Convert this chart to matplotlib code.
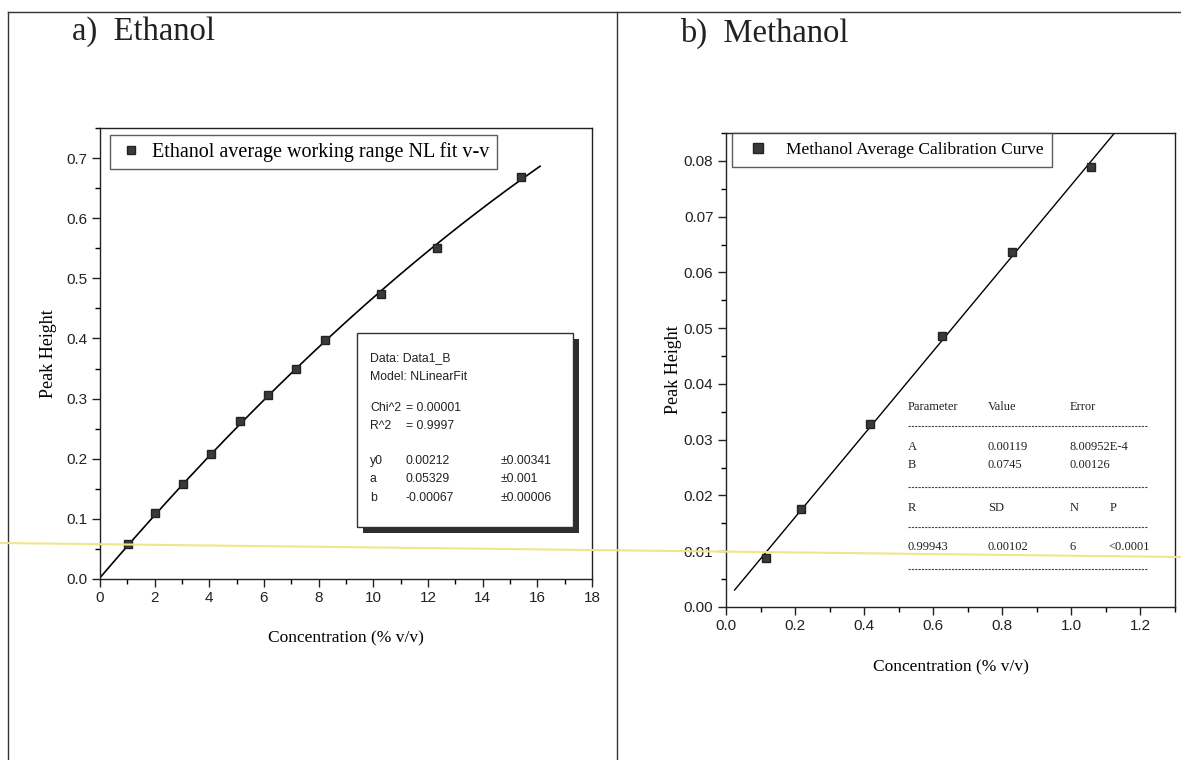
import numpy as np
import matplotlib.pyplot as plt
from matplotlib.patches import Rectangle
from matplotlib.lines import Line2D
from matplotlib.ticker import MultipleLocator

W, H = 1181, 760

# Ethanol calibration points
eth_conc = [1.03, 2.02, 3.04, 4.07, 5.12, 6.15, 7.17, 8.22, 10.28, 12.33, 15.42]
eth_peak = [0.058, 0.110, 0.158, 0.208, 0.263, 0.306, 0.349, 0.398, 0.474, 0.550, 0.668]
# quadratic fit parameters y0, a, b
eth_fit = [0.00212, 0.05329, -0.00067]

# Methanol calibration points
meth_conc = [0.115, 0.216, 0.418, 0.626, 0.828, 1.058]
meth_peak = [0.0088, 0.0176, 0.0328, 0.0486, 0.0636, 0.0789]
# linear fit parameters A, B
meth_fit = [0.00119, 0.0745]

serif = 'Liberation Serif'
sans = 'Liberation Sans'
plt.rcParams['font.family'] = sans


def fx(x):
    return x / W


def fy(y):
    return 1 - y / H


fig = plt.figure(figsize=(W / 100, H / 100), dpi=100)
fig.patch.set_facecolor('white')

# page frame and divider
for xs, ys in [([8, W], [12, 12]), ([8, 8], [12, H]), ([617, 617], [12, H])]:
    fig.add_artist(Line2D([fx(v) for v in xs], [fy(v) for v in ys],
                          color='#333333', lw=1.0))

fig.text(fx(72), fy(32), 'a)  Ethanol', family=serif, fontsize=23.5,
         color='#222222', va='center')
fig.text(fx(680), fy(33), 'b)  Methanol', family=serif, fontsize=23.5,
         color='#222222', va='center')


def style_axes(ax):
    for s in ax.spines.values():
        s.set_linewidth(1.0)
        s.set_color('#222222')
    ax.tick_params(which='major', direction='out', length=6, width=1, pad=3,
                   labelsize=11, colors='#222222', right=False, top=False)
    ax.tick_params(which='minor', direction='out', length=3.5, width=1,
                   right=False, top=False)


# ---- a) Ethanol ----
ax1 = fig.add_axes([fx(100), fy(579), fx(592) - fx(100), fy(128) - fy(579)])
xf = np.linspace(0, 16.1, 200)
ax1.plot(xf, eth_fit[0] + eth_fit[1] * xf + eth_fit[2] * xf ** 2,
         color='black', lw=1.2, zorder=2)
ax1.plot(eth_conc, eth_peak, 's', color='#3a3a3a', ms=6, mec='#222222',
         zorder=3, label='Ethanol average working range NL fit v-v')
ax1.set_xlim(0, 18)
ax1.set_ylim(0, 0.75)
ax1.xaxis.set_major_locator(MultipleLocator(2))
ax1.xaxis.set_minor_locator(MultipleLocator(1))
ax1.yaxis.set_minor_locator(MultipleLocator(0.05))
ax1.set_yticks(np.arange(0, 0.71, 0.1))
ax1.set_yticklabels([f'{v:.1f}' for v in np.arange(0, 0.71, 0.1)])
style_axes(ax1)
ax1.set_xlabel('Concentration (% v/v)', family=serif, fontsize=12.5, labelpad=18)
ax1.set_ylabel('Peak Height', family=serif, fontsize=13, labelpad=7)
leg1 = ax1.legend(loc='upper left', bbox_to_anchor=(0.02, 0.985),
                  prop={'family': serif, 'size': 14.5}, frameon=True,
                  fancybox=False, edgecolor='#333333', borderpad=0.35,
                  handlelength=1.4, handletextpad=0.35, borderaxespad=0,
                  markerscale=0.85)
leg1.get_frame().set_linewidth(1.0)

# fit report box with drop shadow
fig.add_artist(Rectangle((fx(363), fy(533)), fx(579) - fx(363), fy(339) - fy(533),
                         facecolor='#2e2e2e', edgecolor='none'))
fig.add_artist(Rectangle((fx(357), fy(527)), fx(573) - fx(357), fy(333) - fy(527),
                         facecolor='white', edgecolor='#333333', lw=1.0))
box_rows = [
    (358, ['Data: Data1_B']),
    (377, ['Model: NLinearFit']),
    (408, ['Chi^2', '= 0.00001']),
    (426, ['R^2', '= 0.9997']),
    (461, ['y0', '0.00212', '\u00b10.00341']),
    (479, ['a', '0.05329', '\u00b10.001']),
    (498, ['b', '-0.00067', '\u00b10.00006']),
]
for y, cells in box_rows:
    for x, t in zip([370, 406, 501], cells):
        fig.text(fx(x), fy(y), t, family=sans, fontsize=8.8, color='#222222',
                 va='center')

# ---- b) Methanol ----
ax2 = fig.add_axes([fx(726), fy(607), fx(1175) - fx(726), fy(133) - fy(607)])
xm = np.array([0.025, 1.2])
ax2.plot(xm, meth_fit[0] + meth_fit[1] * xm, color='black', lw=1.0, zorder=2)
ax2.plot(meth_conc, meth_peak, 's', color='#3a3a3a', ms=5.5, mec='#222222',
         zorder=3, label='Methanol Average Calibration Curve')
ax2.set_xlim(0, 1.3)
ax2.set_ylim(0, 0.085)
ax2.xaxis.set_minor_locator(MultipleLocator(0.1))
ax2.set_xticks(np.arange(0, 1.21, 0.2))
ax2.set_xticklabels([f'{v:.1f}' for v in np.arange(0, 1.21, 0.2)])
ax2.set_yticks(np.arange(0, 0.081, 0.01))
ax2.set_yticklabels([f'{v:.2f}' for v in np.arange(0, 0.081, 0.01)])
ax2.yaxis.set_minor_locator(MultipleLocator(0.005))
style_axes(ax2)
ax2.set_xlabel('Concentration (% v/v)', family=serif, fontsize=12.5, labelpad=19)
ax2.set_ylabel('Peak Height', family=serif, fontsize=13, labelpad=1)
leg2 = ax2.legend(loc='upper left', bbox_to_anchor=(0.013, 1.0),
                  prop={'family': serif, 'size': 12.5}, frameon=True,
                  fancybox=False, edgecolor='#333333', borderpad=0.5,
                  handletextpad=0.6, borderaxespad=0, markerscale=1.2)
leg2.get_frame().set_linewidth(1.0)

# regression summary table
tbl_rows = [
    (407, [(908, 'Parameter'), (988, 'Value'), (1070, 'Error')]),
    (447, [(908, 'A'), (988, '0.00119'), (1070, '8.00952E-4')]),
    (465, [(908, 'B'), (988, '0.0745'), (1070, '0.00126')]),
    (508, [(908, 'R'), (988, 'SD'), (1070, 'N'), (1110, 'P')]),
    (547, [(908, '0.99943'), (988, '0.00102'), (1070, '6'), (1108, '<0.0001')]),
]
for y, cells in tbl_rows:
    for x, t in cells:
        fig.text(fx(x), fy(y), t, family=serif, fontsize=9, color='#222222',
                 va='center')
for y in [426, 487, 527, 569]:
    fig.add_artist(Line2D([fx(908), fx(1147)], [fy(y), fy(y)], color='#444444',
                          lw=0.8, ls=(0, (2, 1))))

# faint yellow streak across the page
fig.add_artist(Line2D([0, 1], [fy(543), fy(557)], color='#efe58a', lw=1.5,
                      zorder=10))

fig.savefig('out.png', dpi=100)
